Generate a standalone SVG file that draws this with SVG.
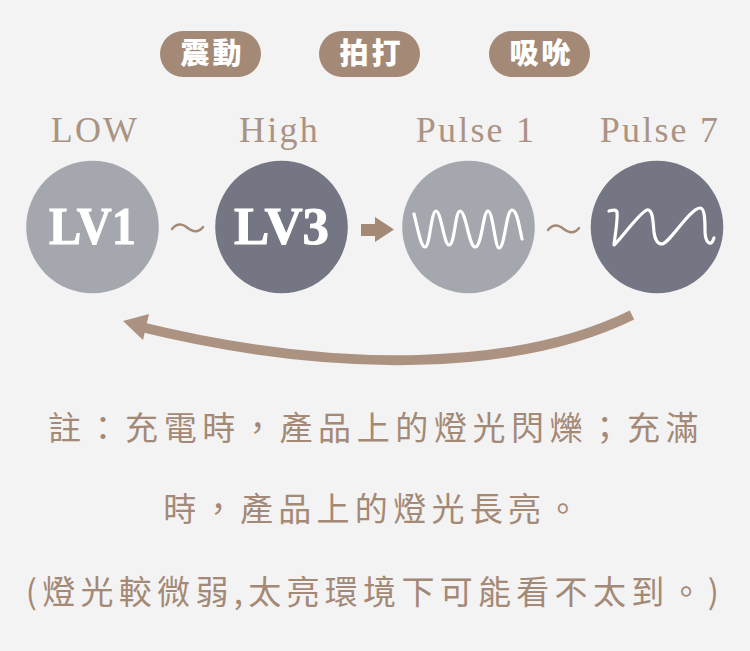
<svg xmlns="http://www.w3.org/2000/svg" width="750" height="651" viewBox="0 0 750 651">
<style>
.pill{fill:#a38976}
.pt{font-family:"Noto Sans CJK TC","Noto Sans CJK JP",sans-serif;font-weight:900;font-size:29px;fill:#fff;text-anchor:middle;letter-spacing:3px}
.lab{font-family:"Liberation Serif","Times New Roman",serif;font-size:36px;fill:#ab9383;text-anchor:middle;letter-spacing:2.2px}
.lt{fill:#a5a7af}.dk{fill:#747683}
.lv{font-family:"Liberation Serif","Times New Roman",serif;font-weight:700;font-size:52px;fill:#fff;stroke:#fff;stroke-width:1px}
.wave{fill:none;stroke:#fff;stroke-width:3.2;stroke-linecap:round;stroke-linejoin:round}
.til{fill:none;stroke:#a38976;stroke-width:2.4;stroke-linecap:round}
.note{font-family:"Noto Sans CJK TC","Noto Sans CJK JP",sans-serif;font-size:33px;fill:#a38976;text-anchor:middle}
</style>
<rect width="750" height="651" fill="#f3f3f3"/>
<g id="connectors">
<path class="til" d="M172 229C176 224 180 223 185 226C190 230 197 235 203 227"/>
<path class="til" d="M548 230C552 225 556 224 561 227C566 231 573 236 579 228"/>
<path d="M361 224H375V217L394 229.500L375 242V236H361Z" fill="#a38976"/>
<path d="M632 315C520 370 340 376 137 326" fill="none" stroke="#ac9280" stroke-width="10"/>
<path d="M123 321L149 314L143 340Z" fill="#ac9280"/>
</g>
<g id="pill1"><rect class="pill" x="160" y="31" width="101" height="46" rx="23"/><text class="pt" x="212.500" y="64">震動</text></g>
<g id="pill2"><rect class="pill" x="319" y="31" width="101" height="46" rx="23"/><text class="pt" x="371.500" y="64">拍打</text></g>
<g id="pill3"><rect class="pill" x="489" y="31" width="101" height="46" rx="23"/><text class="pt" x="541.500" y="64">吸吮</text></g>
<g id="low"><text class="lab" x="95" y="142">LOW</text><circle class="lt" cx="92.500" cy="227" r="66.300"/><text class="lv" x="49" y="244" textLength="87" lengthAdjust="spacingAndGlyphs">LV1</text></g>
<g id="high"><text class="lab" x="279.500" y="142">High</text><circle class="dk" cx="281.500" cy="227" r="66.300"/><text class="lv" x="234" y="244" textLength="95" lengthAdjust="spacingAndGlyphs">LV3</text></g>
<g id="pulse1"><text class="lab" x="476" y="142">Pulse 1</text><circle class="lt" cx="468.500" cy="227" r="66.300"/>
<path class="wave" d="M414 214C418 230 421 247 425 247C430 247 431 211 436 211C441 211 444 245 449 245C455 245 455 211 460 211C466 211 469 247 475 247C482 247 483 211 488 211C493 211 495 248 499 248C505 248 506 210 512 210C517 210 519 225 522 239"/></g>
<g id="pulse7"><text class="lab" x="660" y="142">Pulse 7</text><circle class="dk" cx="657" cy="227" r="66.300"/>
<path class="wave" d="M609 211C613 210 616 209 617 212C618 220 615 235 614 245C620 240 640 212 647 210C653 209 653 222 654 232C655 240 657 244 662 244C670 243 690 208 700 208C705 208 705 222 705 230C705 240 708 244 711 243C713 242 713 240 714 238"/></g>
<g id="note">
<text class="note" x="376" y="440" letter-spacing="5.6">註：充電時，產品上的燈光閃爍；充滿</text>
<text class="note" x="374" y="521" letter-spacing="5.3">時，產品上的燈光長亮。</text>
<text class="note" x="375" y="604" letter-spacing="5.3">(燈光較微弱,太亮環境下可能看不太到。)</text>
</g>
</svg>
